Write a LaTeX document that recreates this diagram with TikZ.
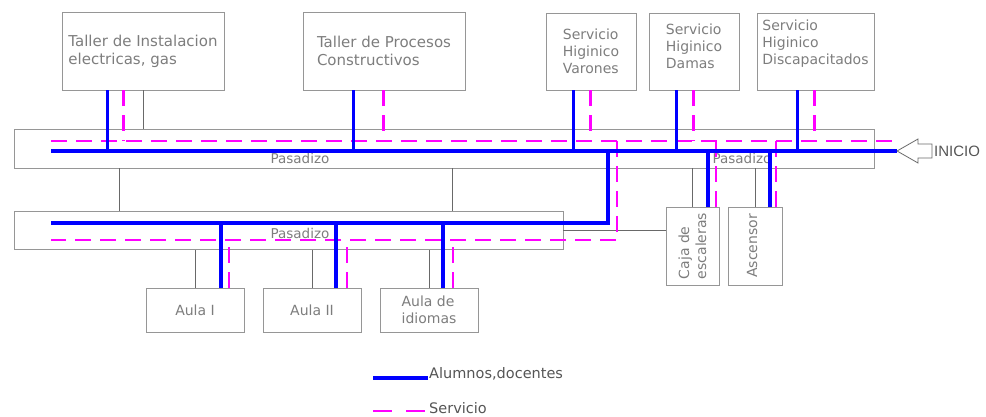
\documentclass[tikz,border=0pt]{standalone}
\usepackage{fontspec}
\setmainfont{DejaVu Sans}
\newfontfamily\iniciofont{Liberation Sans}
\usetikzlibrary{calc}
\definecolor{boxgray}{RGB}{150,150,150}
\definecolor{linkgray}{RGB}{105,105,105}
\definecolor{txtgray}{RGB}{125,125,125}
\definecolor{leggray}{RGB}{85,85,85}
\definecolor{alumblue}{RGB}{0,0,255}
\definecolor{servmag}{RGB}{255,0,255}
\tikzset{
  roomtext/.style={text=txtgray, align=left, font=\fontsize{14}{17}\selectfont},
  room/.style={draw=boxgray, line width=0.9pt, inner sep=0pt, roomtext},
  bigroom/.style={room, font=\fontsize{15}{18}\selectfont},
  passage/.style={draw=boxgray, line width=0.9pt, inner sep=0pt},
  tag/.style={text=txtgray, font=\fontsize{13.5}{16}\selectfont},
  legend/.style={text=leggray, inner sep=1pt, font=\fontsize{14.5}{17}\selectfont},
  link/.style={draw=linkgray, line width=0.8pt},
  alumnos/.style={draw=alumblue, line width=3.6pt},
  servicio/.style={draw=servmag, line width=2.2pt, dash pattern=on 16pt off 9pt},
}

\begin{document}
\begin{tikzpicture}[x=1pt, y=-1pt]
\useasboundingbox (0,0) rectangle (986,417);

% ambientes
\node[bigroom, minimum width=162pt, minimum height=78pt] (taller1) at (143,51) {Taller de Instalacion\\electricas, gas};
\node[bigroom, minimum width=162pt, minimum height=78pt] (taller2) at (384,51) {Taller de Procesos\\Constructivos};
\node[room, minimum width=90pt, minimum height=77pt] (varones) at (591,51.5) {Servicio\\Higinico\\Varones};
\node[room, minimum width=90pt, minimum height=77pt,
  label={[roomtext, yshift=5.5pt]center:{Servicio\\Higinico\\Damas}}] (damas) at (694,51.5) {};
\node[room, minimum width=117pt, minimum height=77pt,
  label={[roomtext, yshift=8pt]center:{Servicio\\Higinico\\Discapacitados}}] (discap) at (815.5,51.5) {};

\node[passage, minimum width=860pt, minimum height=39pt] (pasadizo1) at (444,148.5) {};
\node[passage, minimum width=549pt, minimum height=38pt] (pasadizo2) at (288.5,230.5) {};
\node[tag] (pas1-tag) at (300,158) {Pasadizo};
\node[tag] (pas2-tag) at (742,158) {Pasadizo};
\node[tag] (pas3-tag) at (300,233) {Pasadizo};

\node[room, minimum width=98pt, minimum height=44pt] (aula1) at (195,310) {Aula I};
\node[room, minimum width=98pt, minimum height=44pt] (aula2) at (312,310) {Aula II};
\node[room, minimum width=98pt, minimum height=44pt] (idiomas) at (429,310) {Aula de\\idiomas};
\node[room, minimum width=53pt, minimum height=78pt,
  label={[roomtext, rotate=90]center:{Caja de\\escaleras}}] (caja) at (692.5,246) {};
\node[room, minimum width=54pt, minimum height=78pt,
  label={[roomtext, rotate=90, yshift=3pt]center:{Ascensor}}] (ascensor) at (755,246) {};

% muros / conexiones
\draw[link] (taller1.south) -- (taller1.south |- pasadizo1.north);
\draw[link] ([xshift=106pt]pasadizo1.south west) -- ([xshift=106pt]pasadizo2.north west);
\draw[link] ([xshift=439pt]pasadizo1.south west) -- ([xshift=439pt]pasadizo2.north west);
\draw[link] (aula1.north) -- (aula1.north |- pasadizo2.south);
\draw[link] (aula2.north) -- (aula2.north |- pasadizo2.south);
\draw[link] (idiomas.north) -- (idiomas.north |- pasadizo2.south);
\draw[link] (caja.north) -- (caja.north |- pasadizo1.south);
\draw[link] (ascensor.north) -- (ascensor.north |- pasadizo1.south);
\draw[link] (pasadizo2.east) -- (pasadizo2.east -| caja.west);

% inicio
\coordinate (inicio) at (897,151);
\draw[draw=linkgray, line width=0.8pt] (inicio) -- ++(21,-12) -- ++(0,5) -- ++(14,0)
  -- ++(0,14) -- ++(-14,0) -- ++(0,5) -- cycle;
\node[anchor=west, inner sep=0pt, text=leggray, font=\iniciofont\fontsize{15}{17}\selectfont] (inicio-txt) at (934,151) {INICIO};

% recorrido servicio
\coordinate (serv-ini) at (896,141);
\coordinate (serv-fin) at (51,141);
\coordinate (serv-baja) at (617,141);
\coordinate (serv-p2) at (51,240);
\draw[servicio] (serv-fin) -- (serv-ini);
\draw[servicio] (serv-baja) |- (serv-p2);
\draw[servicio] ([xshift=62pt]taller1.south west) -- ++(0,51);
\draw[servicio] ([xshift=81pt]taller2.south west) -- ++(0,51);
\draw[servicio] ([xshift=45pt]varones.south west) -- ++(0,51);
\draw[servicio] ([xshift=45pt]damas.south west) -- ++(0,51);
\draw[servicio] ([xshift=58pt]discap.south west) -- ++(0,51);
\draw[servicio] ([xshift=34pt]aula1.north) -- ++(0,-48);
\draw[servicio] ([xshift=35pt]aula2.north) -- ++(0,-48);
\draw[servicio] ([xshift=24pt]idiomas.north) -- ++(0,-48);
\draw[servicio] ([xshift=23.5pt]caja.north) -- ++(0,-66);
\draw[servicio] ([xshift=21pt]ascensor.north) -- ++(0,-66);

% recorrido alumnos
\coordinate (alum-fin) at (51,151);
\coordinate (alum-baja) at (608,151);
\coordinate (alum-p2) at (51,223);
\draw[alumnos] (inicio) -- (alum-fin);
\draw[alumnos] (alum-baja) |- (alum-p2);
\draw[alumnos] ([xshift=46pt]taller1.south west) -- ++(0,61);
\draw[alumnos] ([xshift=51pt]taller2.south west) -- ++(0,61);
\draw[alumnos] ([xshift=28pt]varones.south west) -- ++(0,61);
\draw[alumnos] ([xshift=28pt]damas.south west) -- ++(0,61);
\draw[alumnos] ([xshift=41pt]discap.south west) -- ++(0,61);
\draw[alumnos] ([xshift=26pt]aula1.north) -- ++(0,-65);
\draw[alumnos] ([xshift=24pt]aula2.north) -- ++(0,-65);
\draw[alumnos] ([xshift=14pt]idiomas.north) -- ++(0,-65);
\draw[alumnos] ([xshift=15.5pt]caja.north) -- ++(0,-56);
\draw[alumnos] ([xshift=15pt]ascensor.north) -- ++(0,-56);

% leyenda
\node[legend, anchor=west] (ley-alumnos) at (428,374) {Alumnos,docentes};
\node[legend, anchor=west] (ley-servicio) at (428,408) {Servicio};
\draw[alumnos] ([shift={(-55pt,-4pt)}]ley-alumnos.west) -- ([yshift=-4pt]ley-alumnos.west);
\draw[servicio, dash pattern=on 19pt off 14pt] ([shift={(-55pt,-3pt)}]ley-servicio.west) -- ([yshift=-3pt]ley-servicio.west);
\end{tikzpicture}
\end{document}
